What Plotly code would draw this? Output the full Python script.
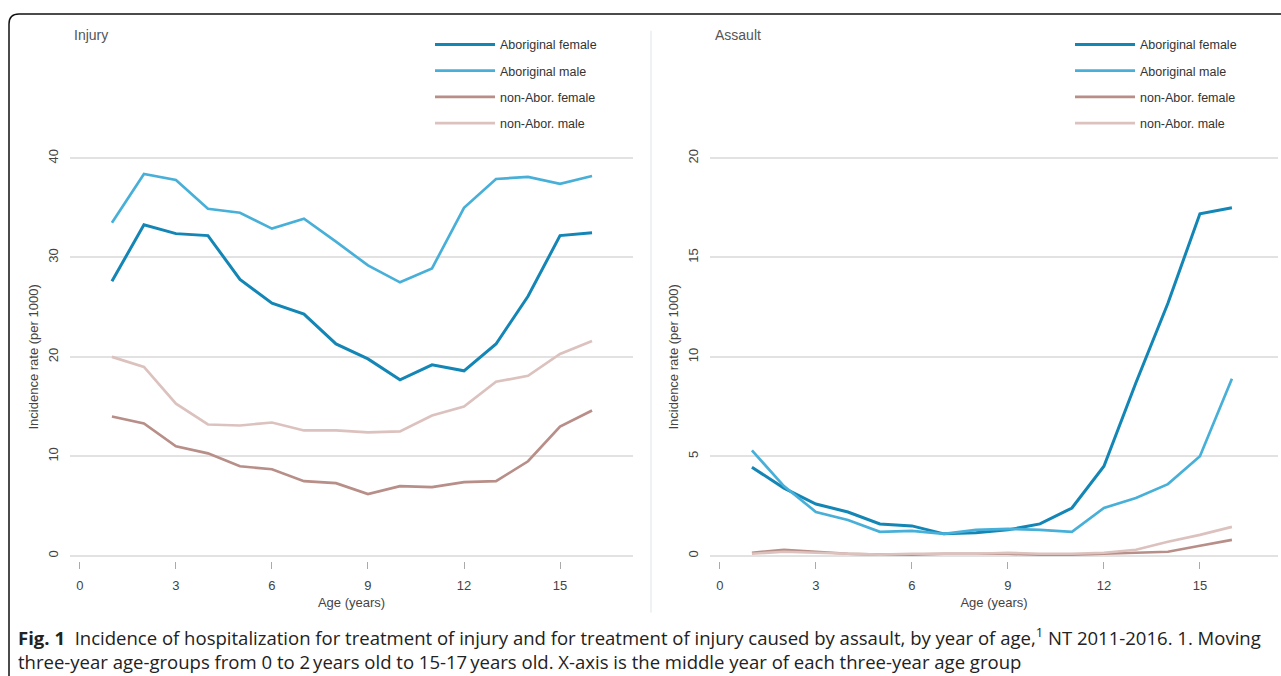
import plotly.graph_objects as go

W, H = 1281, 676

ages = list(range(1, 17))
series_names = ["Aboriginal female", "Aboriginal male", "non-Abor. female", "non-Abor. male"]

injury_abor_female = [27.6, 33.3, 32.4, 32.2, 27.8, 25.4, 24.3, 21.3, 19.8, 17.7, 19.2, 18.6, 21.3, 26.1, 32.2, 32.5]
injury_abor_male = [33.5, 38.4, 37.8, 34.9, 34.5, 32.9, 33.9, 31.6, 29.2, 27.5, 28.9, 35.0, 37.9, 38.1, 37.4, 38.2]
injury_nonabor_female = [14.0, 13.3, 11.0, 10.3, 9.0, 8.7, 7.5, 7.3, 6.2, 7.0, 6.9, 7.4, 7.5, 9.5, 13.0, 14.6]
injury_nonabor_male = [20.0, 19.0, 15.3, 13.2, 13.1, 13.4, 12.6, 12.6, 12.4, 12.5, 14.1, 15.0, 17.5, 18.1, 20.3, 21.6]

assault_abor_female = [4.45, 3.4, 2.6, 2.2, 1.6, 1.5, 1.1, 1.15, 1.3, 1.6, 2.4, 4.5, 8.7, 12.7, 17.2, 17.5]
assault_abor_male = [5.3, 3.5, 2.2, 1.8, 1.2, 1.25, 1.1, 1.3, 1.35, 1.3, 1.2, 2.4, 2.9, 3.6, 5.0, 8.9]
assault_nonabor_female = [0.15, 0.3, 0.2, 0.1, 0.05, 0.05, 0.1, 0.1, 0.1, 0.05, 0.05, 0.1, 0.15, 0.2, 0.5, 0.8]
assault_nonabor_male = [0.1, 0.2, 0.15, 0.1, 0.05, 0.1, 0.1, 0.1, 0.15, 0.1, 0.1, 0.15, 0.3, 0.7, 1.05, 1.45]

x_ticks = [0, 3, 6, 9, 12, 15]
injury_y_ticks = [0, 10, 20, 30, 40]
assault_y_ticks = [0, 5, 10, 15, 20]

colors = ["#1386b6", "#48b0d8", "#b88e88", "#dcc2be"]
widths = [3, 2.7, 2.7, 2.7]

caption_line1 = ("<b>Fig. 1</b>  Incidence of hospitalization for treatment of injury and for treatment of injury "
                 "caused by assault, by year of age,<sup>1</sup> NT 2011-2016. 1. Moving")
caption_line2 = ("three-year age-groups from 0 to 2\u2009years old to 15-17\u2009years old. "
                 "X-axis is the middle year of each three-year age group")


def px_x(p):
    return p / W


def px_y(p):
    return 1 - p / H


fig = go.Figure()

injury_sets = [injury_abor_female, injury_abor_male, injury_nonabor_female, injury_nonabor_male]
assault_sets = [assault_abor_female, assault_abor_male, assault_nonabor_female, assault_nonabor_male]

for i, (name, vals) in enumerate(zip(series_names, injury_sets)):
    fig.add_trace(go.Scatter(x=ages, y=vals, mode="lines", name=name,
                             line=dict(color=colors[i], width=widths[i]),
                             xaxis="x", yaxis="y", legend="legend",
                             legendgroup="l" + str(i)))
for i, (name, vals) in enumerate(zip(series_names, assault_sets)):
    fig.add_trace(go.Scatter(x=ages, y=vals, mode="lines", name=name,
                             line=dict(color=colors[i], width=widths[i]),
                             xaxis="x2", yaxis="y2", legend="legend2",
                             legendgroup="r" + str(i)))

font_family = "Liberation Sans, Arial, sans-serif"
tick_font = dict(family=font_family, size=13, color="#444")

y_dom = [px_y(560), px_y(150)]

common_x = dict(tickvals=x_ticks, ticks="outside", ticklen=7, tickwidth=1, tickcolor="#aaa",
                showgrid=False, zeroline=False, showline=False, tickfont=tick_font,
                ticklabelstandoff=6,
                title=dict(text="Age (years)", font=dict(family=font_family, size=13, color="#444"), standoff=5))
common_y = dict(ticks="", showgrid=True, gridcolor="#e2e2e2", gridwidth=2, zeroline=False,
                showline=False, tickfont=tick_font, tickangle=-90, ticklabelstandoff=8,
                title=dict(text="Incidence rate (per 1000)", font=dict(family=font_family, size=13, color="#444"),
                           standoff=4),
                domain=y_dom)

legend_common = dict(xanchor="left", yanchor="top", bgcolor="rgba(0,0,0,0)",
                     font=dict(family=font_family, size=12.5, color="#333"), itemwidth=60,
                     tracegroupgap=7, itemclick=False)

fig.update_layout(
    width=W, height=H, margin=dict(l=0, r=0, t=0, b=0),
    paper_bgcolor="white", plot_bgcolor="white",
    xaxis=dict(common_x, domain=[px_x(70), px_x(633)], range=[-0.31, 17.28], anchor="y"),
    yaxis=dict(common_y, range=[-0.5, 40.5], tickvals=injury_y_ticks, anchor="x"),
    xaxis2=dict(common_x, domain=[px_x(710), px_x(1278)], range=[-0.31, 17.44], anchor="y2"),
    yaxis2=dict(common_y, range=[-0.25, 20.25], tickvals=assault_y_ticks, anchor="x2"),
    legend=dict(legend_common, x=px_x(430), y=px_y(26)),
    legend2=dict(legend_common, x=px_x(1070), y=px_y(26)),
    showlegend=True,
)

annotations = [
    dict(text="Injury", x=px_x(72), y=px_y(31), xref="paper", yref="paper", xanchor="left", yanchor="middle",
         showarrow=False, font=dict(family=font_family, size=14, color="#555")),
    dict(text="Assault", x=px_x(713), y=px_y(31), xref="paper", yref="paper", xanchor="left", yanchor="middle",
         showarrow=False, font=dict(family=font_family, size=14, color="#555")),
    dict(text=caption_line1 + "<br>" + caption_line2, x=px_x(16), y=px_y(621), xref="paper", yref="paper",
         xanchor="left", yanchor="top", align="left", showarrow=False,
         font=dict(family="Open Sans, Noto Sans, sans-serif", size=18.55, color="#222")),
]
fig.update_layout(annotations=annotations)

r = 10
frame_path = (f"M {px_x(W + 5)} {px_y(10)} L {px_x(9 + r)} {px_y(10)} "
              f"Q {px_x(9)} {px_y(10)} {px_x(9)} {px_y(10 + r)} L {px_x(9)} {px_y(H + 5)}")
fig.add_shape(type="path", path=frame_path, xref="paper", yref="paper",
              line=dict(color="#111", width=1.5), layer="above")
fig.add_shape(type="line", x0=px_x(651), x1=px_x(651), y0=px_y(27), y1=px_y(612), xref="paper", yref="paper",
              line=dict(color="#eef2f2", width=2))

fig.write_html("out.html", config={"displayModeBar": False},
               post_script="document.body.style.margin='0';document.body.style.padding='0';"
                           "document.documentElement.style.overflow='hidden';")
